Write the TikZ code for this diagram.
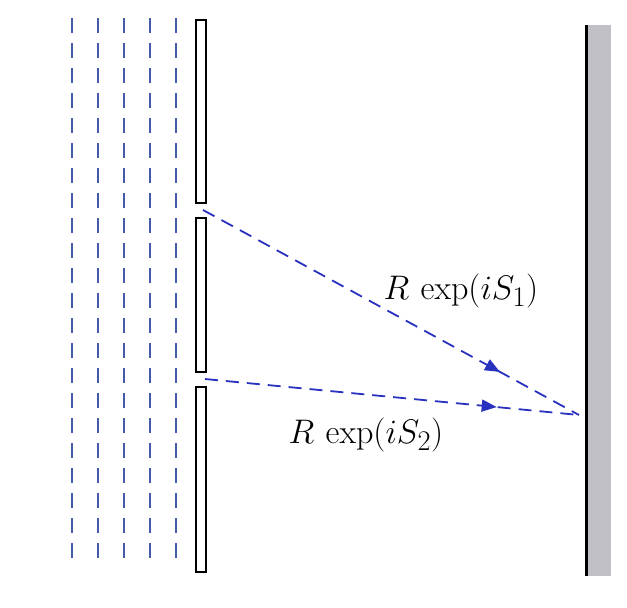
\documentclass[tikz,border=0pt]{standalone}
\usetikzlibrary{arrows.meta,decorations.markings}
\begin{document}
\begin{tikzpicture}[x=1pt,y=-1pt,
  wave/.style={draw=wavecol,line width=1.6pt,dash pattern=on 15pt off 10pt},
  ray/.style={draw=raycol,line width=1.8pt,dash pattern=on 13pt off 8pt},
  plate/.style={draw=black,line width=1.3pt,fill=white},
  lbl/.style={font=\Huge,inner sep=0pt},
  midarrow/.style={postaction={decorate},decoration={markings,
    mark=at position #1 with {\arrow{Triangle[length=15pt,width=12pt,fill=raycol]}}}}]
\definecolor{wavecol}{RGB}{70,90,170}
\definecolor{raycol}{RGB}{40,50,190}
\definecolor{screengray}{RGB}{192,192,198}
\useasboundingbox (0,0) rectangle (627,608);
\fill[white] (0,0) rectangle (627,608);
% incoming plane waves
\foreach \x in {72,98,124,150,176}{
  \draw[wave] (\x,18) -- (\x,566);
}
% barrier plates
\draw[plate] (196,20) rectangle (206,203);
\draw[plate] (196,218) rectangle (206,372);
\draw[plate] (196,387) rectangle (206,572);
% screen
\fill[screengray] (587,25) rectangle (611,576);
\draw[line width=3pt] (586,25) -- (586,576);
% rays
\coordinate (s1) at (203,210);
\coordinate (s2) at (205,379);
\coordinate (p) at (579,415);
\draw[ray,midarrow=0.79] (s1) -- (p);
\draw[ray,midarrow=0.78] (s2) -- (p);
% labels
\node[lbl] (l1) at (461,291) {\scalebox{1.37}{$R\,\exp(iS_1)$}};
\node[lbl] (l2) at (366,435) {\scalebox{1.37}{$R\,\exp(iS_2)$}};
\end{tikzpicture}
\end{document}
